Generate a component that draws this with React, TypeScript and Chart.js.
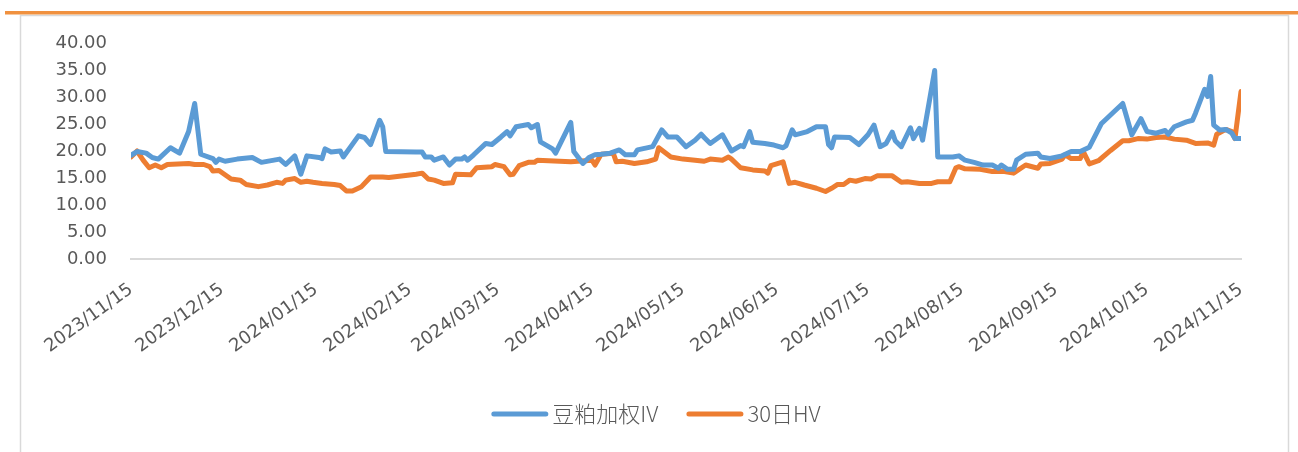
import React, { useEffect, useRef } from "react";
import { Chart, registerables } from "chart.js";

Chart.register(...registerables);

const START_DATE = "2023-11-15";

const tickLabels = [
  "2023/11/15", "2023/12/15", "2024/01/15", "2024/02/15", "2024/03/15", "2024/04/15",
  "2024/05/15", "2024/06/15", "2024/07/15", "2024/08/15", "2024/09/15", "2024/10/15", "2024/11/15",
];

const seriesNames = ["豆粕加权IV", "30日HV"];

const ivDates = [
  "2023-11-15", "2023-11-17", "2023-11-20", "2023-11-22", "2023-11-24", "2023-11-28", "2023-12-01", "2023-12-04",
  "2023-12-06", "2023-12-08", "2023-12-12", "2023-12-13", "2023-12-14", "2023-12-16", "2023-12-20", "2023-12-25",
  "2023-12-28", "2024-01-03", "2024-01-05", "2024-01-08", "2024-01-10", "2024-01-12", "2024-01-16", "2024-01-17",
  "2024-01-18", "2024-01-20", "2024-01-23", "2024-01-24", "2024-01-29", "2024-01-31", "2024-02-02", "2024-02-05",
  "2024-02-06", "2024-02-07", "2024-02-17", "2024-02-19", "2024-02-20", "2024-02-22", "2024-02-23", "2024-02-26",
  "2024-02-28", "2024-03-01", "2024-03-03", "2024-03-04", "2024-03-05", "2024-03-07", "2024-03-11", "2024-03-13",
  "2024-03-16", "2024-03-18", "2024-03-19", "2024-03-21", "2024-03-25", "2024-03-26", "2024-03-28", "2024-03-29",
  "2024-04-02", "2024-04-03", "2024-04-08", "2024-04-09", "2024-04-12", "2024-04-14", "2024-04-16", "2024-04-18",
  "2024-04-21", "2024-04-24", "2024-04-26", "2024-04-29", "2024-04-30", "2024-05-05", "2024-05-08", "2024-05-10",
  "2024-05-13", "2024-05-16", "2024-05-19", "2024-05-21", "2024-05-22", "2024-05-24", "2024-05-28", "2024-05-31",
  "2024-06-03", "2024-06-04", "2024-06-06", "2024-06-07", "2024-06-11", "2024-06-14", "2024-06-17", "2024-06-18",
  "2024-06-20", "2024-06-21", "2024-06-25", "2024-06-28", "2024-07-01", "2024-07-02", "2024-07-03", "2024-07-04",
  "2024-07-09", "2024-07-12", "2024-07-15", "2024-07-17", "2024-07-19", "2024-07-21", "2024-07-23", "2024-07-24",
  "2024-07-26", "2024-07-29", "2024-07-30", "2024-08-01", "2024-08-02", "2024-08-06", "2024-08-07", "2024-08-12",
  "2024-08-14", "2024-08-16", "2024-08-19", "2024-08-22", "2024-08-25", "2024-08-27", "2024-08-28", "2024-08-30",
  "2024-09-01", "2024-09-02", "2024-09-05", "2024-09-09", "2024-09-10", "2024-09-13", "2024-09-17", "2024-09-20",
  "2024-09-23", "2024-09-26", "2024-09-30", "2024-10-07", "2024-10-10", "2024-10-13", "2024-10-15", "2024-10-18",
  "2024-10-21", "2024-10-22", "2024-10-24", "2024-10-28", "2024-10-30", "2024-10-31", "2024-11-03", "2024-11-04",
  "2024-11-05", "2024-11-06", "2024-11-08", "2024-11-10", "2024-11-12", "2024-11-13", "2024-11-15",
];

const ivValues = [
  19.2, 19.9, 19.6, 18.8, 18.5, 20.6, 19.6, 23.6,
  28.8, 19.4, 18.6, 17.9, 18.5, 18.1, 18.5, 18.8,
  17.9, 18.5, 17.5, 19.1, 15.7, 19.1, 18.8, 18.6,
  20.4, 19.8, 20.0, 18.9, 22.8, 22.5, 21.2, 25.7,
  24.5, 19.9, 19.8, 19.8, 18.9, 18.9, 18.3, 18.9,
  17.4, 18.5, 18.5, 18.9, 18.3, 19.3, 21.4, 21.2,
  22.6, 23.6, 22.8, 24.5, 24.9, 24.3, 24.9, 21.7,
  20.4, 19.6, 25.3, 19.9, 17.7, 18.8, 19.3, 19.4,
  19.6, 20.2, 19.3, 19.3, 20.2, 20.8, 23.9, 22.6,
  22.6, 20.8, 22.0, 23.1, 22.5, 21.4, 23.0, 20.0,
  21.0, 20.8, 23.6, 21.6, 21.4, 21.1, 20.6, 21.0,
  23.9, 23.0, 23.6, 24.5, 24.5, 21.2, 20.6, 22.6,
  22.5, 21.2, 23.0, 24.8, 20.8, 21.4, 23.5, 21.9,
  20.8, 24.3, 22.3, 24.2, 22.0, 34.9, 18.9, 18.9,
  19.1, 18.3, 17.9, 17.4, 17.4, 16.8, 17.4, 16.6,
  16.6, 18.3, 19.4, 19.6, 18.9, 18.6, 19.1, 19.9,
  19.9, 20.7, 25.1, 28.8, 23.0, 26.0, 23.6, 23.3,
  23.8, 23.1, 24.5, 25.4, 25.7, 27.0, 31.4, 30.1,
  33.8, 24.8, 23.9, 24.0, 23.3, 22.3, 22.3,
];

const hvDates = [
  "2023-11-15", "2023-11-17", "2023-11-19", "2023-11-21", "2023-11-23", "2023-11-25", "2023-11-27", "2023-12-04",
  "2023-12-06", "2023-12-09", "2023-12-11", "2023-12-12", "2023-12-14", "2023-12-18", "2023-12-21", "2023-12-23",
  "2023-12-27", "2023-12-30", "2024-01-02", "2024-01-04", "2024-01-05", "2024-01-08", "2024-01-10", "2024-01-12",
  "2024-01-14", "2024-01-17", "2024-01-21", "2024-01-23", "2024-01-25", "2024-01-27", "2024-01-30", "2024-02-02",
  "2024-02-06", "2024-02-08", "2024-02-17", "2024-02-19", "2024-02-21", "2024-02-23", "2024-02-26", "2024-02-29",
  "2024-03-01", "2024-03-06", "2024-03-08", "2024-03-13", "2024-03-14", "2024-03-17", "2024-03-19", "2024-03-20",
  "2024-03-22", "2024-03-25", "2024-03-27", "2024-03-28", "2024-04-08", "2024-04-15", "2024-04-16", "2024-04-18",
  "2024-04-22", "2024-04-23", "2024-04-25", "2024-04-29", "2024-05-03", "2024-05-06", "2024-05-07", "2024-05-11",
  "2024-05-15", "2024-05-19", "2024-05-22", "2024-05-24", "2024-05-28", "2024-05-30", "2024-05-31", "2024-06-03",
  "2024-06-07", "2024-06-11", "2024-06-12", "2024-06-13", "2024-06-17", "2024-06-19", "2024-06-21", "2024-06-24",
  "2024-06-28", "2024-07-01", "2024-07-03", "2024-07-05", "2024-07-07", "2024-07-09", "2024-07-11", "2024-07-14",
  "2024-07-16", "2024-07-18", "2024-07-23", "2024-07-26", "2024-07-28", "2024-08-01", "2024-08-05", "2024-08-07",
  "2024-08-11", "2024-08-13", "2024-08-14", "2024-08-16", "2024-08-21", "2024-08-25", "2024-08-29", "2024-09-01",
  "2024-09-05", "2024-09-09", "2024-09-10", "2024-09-13", "2024-09-17", "2024-09-18", "2024-09-20", "2024-09-23",
  "2024-09-24", "2024-09-26", "2024-09-29", "2024-10-03", "2024-10-07", "2024-10-09", "2024-10-12", "2024-10-15",
  "2024-10-18", "2024-10-21", "2024-10-24", "2024-10-28", "2024-10-31", "2024-11-04", "2024-11-06", "2024-11-07",
  "2024-11-10", "2024-11-12", "2024-11-13", "2024-11-15",
];

const hvValues = [
  18.9, 20.0, 18.3, 16.9, 17.4, 16.9, 17.5, 17.7,
  17.5, 17.5, 17.1, 16.3, 16.4, 14.8, 14.6, 13.8,
  13.4, 13.7, 14.2, 14.0, 14.6, 14.9, 14.2, 14.4,
  14.2, 14.0, 13.8, 13.6, 12.6, 12.6, 13.4, 15.2,
  15.2, 15.1, 15.7, 15.9, 14.8, 14.6, 14.0, 14.1,
  15.7, 15.6, 16.9, 17.1, 17.5, 17.1, 15.6, 15.7,
  17.3, 17.9, 17.9, 18.3, 18.0, 18.3, 17.4, 19.4,
  19.6, 18.0, 18.1, 17.7, 18.0, 18.5, 20.6, 18.9,
  18.5, 18.3, 18.1, 18.5, 18.3, 18.9, 18.5, 16.9,
  16.5, 16.3, 15.9, 17.3, 18.0, 14.0, 14.2, 13.7,
  13.1, 12.5, 13.1, 13.8, 13.8, 14.6, 14.4, 14.9,
  14.8, 15.4, 15.4, 14.2, 14.3, 14.0, 14.0, 14.3,
  14.3, 16.9, 17.1, 16.7, 16.6, 16.2, 16.2, 15.9,
  17.4, 16.8, 17.6, 17.7, 18.5, 19.3, 18.6, 18.6,
  19.9, 17.6, 18.2, 20.1, 21.9, 21.9, 22.3, 22.2,
  22.5, 22.6, 22.2, 22.0, 21.4, 21.5, 21.1, 23.1,
  24.0, 23.6, 22.3, 31.0,
];

const W = 1298;
const H = 452;

const dayIndex = (s: string) =>
  Math.round(
    (Date.parse(s.replace(/\//g, "-") + "T00:00:00Z") - Date.parse(START_DATE + "T00:00:00Z")) / 86400000
  );

const tickDays = tickLabels.map(dayIndex);

const framePlugin = {
  id: "frame",
  beforeDraw(chart: any) {
    const ctx = chart.ctx;
    ctx.save();
    ctx.fillStyle = "#ffffff";
    ctx.fillRect(0, 0, W, H);
    ctx.strokeStyle = "#d9d9d9";
    ctx.lineWidth = 1.5;
    ctx.beginPath();
    ctx.moveTo(20.5, 15);
    ctx.lineTo(20.5, H);
    ctx.moveTo(1288.5, 15);
    ctx.lineTo(1288.5, H);
    ctx.moveTo(20, 15.5);
    ctx.lineTo(1289, 15.5);
    ctx.stroke();
    ctx.fillStyle = "#F0913F";
    ctx.fillRect(5, 11, W - 5, 3.5);
    ctx.restore();
  },
};

const legendPlugin = {
  id: "customLegend",
  afterDraw(chart: any) {
    const ctx = chart.ctx;
    const font = '300 22px "Noto Sans CJK SC", "Noto Sans", sans-serif';
    ctx.save();
    ctx.font = font;
    const lineLen = 57;
    const gapLineText = 4;
    const gapItems = 28;
    const items = chart.data.datasets.map((ds: any) => ({
      label: ds.label,
      color: ds.borderColor,
      w: lineLen + gapLineText + ctx.measureText(ds.label).width,
    }));
    const total = items.reduce((a: number, it: any) => a + it.w, 0) + gapItems * (items.length - 1);
    let x = 656 - total / 2;
    const y = 414;
    items.forEach((it: any) => {
      ctx.strokeStyle = it.color;
      ctx.lineWidth = 5;
      ctx.lineCap = "round";
      ctx.beginPath();
      ctx.moveTo(x + 2.5, y);
      ctx.lineTo(x + lineLen - 2.5, y);
      ctx.stroke();
      ctx.fillStyle = "#595959";
      ctx.textBaseline = "middle";
      ctx.textAlign = "left";
      ctx.fillText(it.label, x + lineLen + gapLineText, y);
      x += it.w + gapItems;
    });
    ctx.restore();
  },
};

export default function App() {
  const canvasRef = useRef<HTMLCanvasElement | null>(null);

  useEffect(() => {
    if (!canvasRef.current) return;
    const chart = new Chart(canvasRef.current, {
      type: "line",
      data: {
        datasets: [
          {
            label: seriesNames[0],
            data: ivDates.map((d, i) => ({ x: dayIndex(d), y: ivValues[i] })),
            borderColor: "#5B9BD5",
            backgroundColor: "#5B9BD5",
            borderWidth: 5,
            pointRadius: 0,
            tension: 0,
            borderJoinStyle: "round",
            borderCapStyle: "round",
          },
          {
            label: seriesNames[1],
            data: hvDates.map((d, i) => ({ x: dayIndex(d), y: hvValues[i] })),
            borderColor: "#ED7D31",
            backgroundColor: "#ED7D31",
            borderWidth: 5,
            pointRadius: 0,
            tension: 0,
            borderJoinStyle: "round",
            borderCapStyle: "round",
          },
        ],
      },
      options: {
        responsive: false,
        animation: false,
        devicePixelRatio: 1,
        layout: { padding: { left: 20, right: 57, top: 43, bottom: 93 } },
        plugins: {
          legend: { display: false },
          tooltip: { enabled: false },
        },
        scales: {
          x: {
            type: "linear",
            min: 0,
            max: tickDays[tickDays.length - 1],
            grid: { display: false, drawTicks: false },
            border: { display: true, color: "#d9d9d9", width: 2 },
            afterBuildTicks: (axis: any) => {
              axis.ticks = tickDays.map((v) => ({ value: v }));
            },
            afterFit: (axis: any) => {
              axis.height = 100;
            },
            ticks: {
              autoSkip: false,
              maxRotation: 36,
              minRotation: 36,
              padding: 20,
              color: "#595959",
              font: { family: '"DejaVu Sans", sans-serif', size: 18 },
              callback: (value: any) => {
                const idx = tickDays.indexOf(Number(value));
                return idx >= 0 ? tickLabels[idx] : "";
              },
            },
          },
          y: {
            min: 0,
            max: 40,
            grid: { display: false, drawTicks: false },
            border: { display: false },
            afterFit: (axis: any) => {
              axis.width = 111;
            },
            ticks: {
              stepSize: 5,
              padding: 24,
              color: "#595959",
              font: { family: '"DejaVu Sans", sans-serif', size: 18 },
              callback: (value: any) => Number(value).toFixed(2),
            },
          },
        },
      },
      plugins: [framePlugin, legendPlugin],
    });
    return () => chart.destroy();
  }, []);

  return (
    <div style={{ position: "absolute", left: 0, top: 0, width: W, height: H }}>
      <canvas ref={canvasRef} width={W} height={H} />
    </div>
  );
}
